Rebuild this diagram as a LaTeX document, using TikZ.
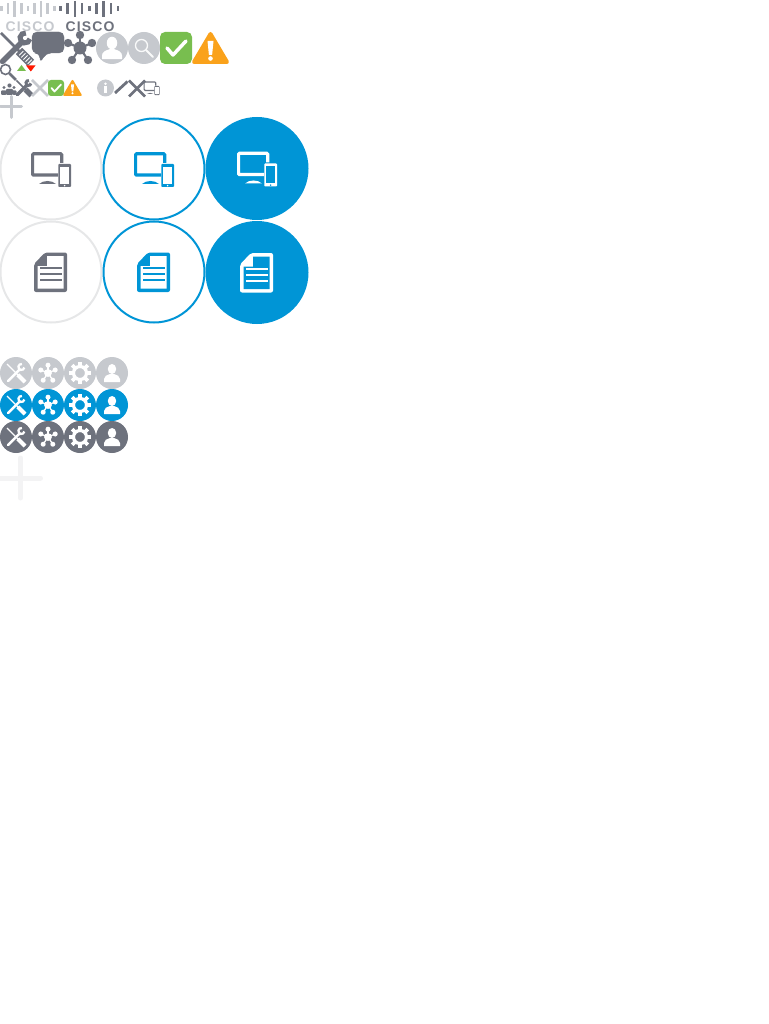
\documentclass[tikz,border=0pt]{standalone}
\usepackage{fontspec}
\newfontfamily\logofont[LetterSpace=8]{Liberation Sans}
\definecolor{slategrey}{HTML}{6E727D}
\definecolor{palegrey}{HTML}{C6C9CE}
\definecolor{ringgrey}{HTML}{E6E7E8}
\definecolor{ciscoblue}{HTML}{0095D6}
\definecolor{okgreen}{HTML}{78BE4F}
\definecolor{warnorange}{HTML}{FAA21B}
\tikzset{
    disc/.style={circle, inner sep=0pt, minimum size=#1},
    logotext/.style={font=\logofont\bfseries\fontsize{14}{14}\selectfont, inner sep=0pt},
    pics/ciscobars/.style n args={2}{code={
        \foreach \i/\h in {0/2.5, 1/5.5, 2/8, 3/5.5, 4/2.5, 5/5.5, 6/8, 7/5.5, 8/2.5}
            \draw[#1, line width=2.6pt] (\i*#2,9-\h) -- (\i*#2,9+\h);
    }},
    pics/tools/.style n args={2}{code={
        \draw[#1, line width=#2*5.5pt, line cap=round] (-13.5,13.5) -- (6,-6);
        \draw[#1, line width=#2*5pt] (9,-10) ++(10:5) arc[start angle=10, end angle=280, radius=5];
        \draw[#1, line width=#2*2.5pt] (-15,-15) -- (4,4);
        \draw[#1, line width=#2*9pt] (3,3) -- (15,15);
    }},
    pics/crossbars/.style n args={2}{code={
        \draw[#1, line width=#2] (-8,-8) -- (8,8) (-8,8) -- (8,-8);
    }},
    pics/hub/.style n args={2}{code={
        \foreach \a/\b in {0/-13, -12/-5, 12/-5, -8/12, 8/12} {
            \draw[#1, line width=#2] (0,0) -- (\a,\b);
            \fill[#1] (\a,\b) circle[radius=4.2];
        }
        \fill[#1] (0,0) circle[radius=6.5];
    }},
    pics/gear/.style={code={
        \draw[#1, line width=3.2pt] (0,0) circle[radius=6.5];
        \foreach \a in {0,45,...,315}
            \draw[#1, line width=3.8pt] (\a:6.5) -- (\a:11);
    }},
    pics/person/.style={code={
        \fill[#1] (0,-4) ellipse[x radius=4.2, y radius=5];
        \fill[#1] (-8,9) -- (-8,6) .. controls (-8,3) and (-5,2) .. (-2,1) -- (2,1) .. controls (5,2) and (8,3) .. (8,6) -- (8,9) -- cycle;
    }},
    pics/tick/.style n args={2}{code={
        \draw[#1, line width=#2, line cap=round, line join=round] (-9,0) -- (-3,7) -- (10,-7);
    }},
    pics/warning/.style={code={
        \draw[warnorange, fill=warnorange, line width=#1, line join=round] (0,-14) -- (16.5,14) -- (-16.5,14) -- cycle;
        \fill[white] (-3,-7) -- (3,-7) -- (1.6,7) -- (-1.6,7) -- cycle;
        \fill[white] (0,10.5) circle[radius=2.3];
    }},
    pics/devices/.style n args={3}{code={
        \draw[#1, line width=#3, rounded corners=1pt] (10.7,-6) -- (10.7,-15.2) -- (-18.4,-15.2) -- (-18.4,6.1) -- (7,6.1);
        \fill[#1] (-12,15) .. controls (-8,11) and (1,11) .. (5,15) -- cycle;
        \fill[#1, rounded corners=.8pt] (7.3,-5) rectangle (20,18);
        \fill[#2] (9,-2) rectangle (18.3,15);
        \fill[#2] (13.6,16.6) circle[radius=.8];
    }},
    pics/document/.style n args={2}{code={
        \fill[#1, rounded corners=2pt] (-17,-8) -- (-6,-19.5) -- (16,-19.5) -- (16,20) -- (-17,20) -- cycle;
        \fill[#2] (-4,-16) -- (12.5,-16) -- (12.5,16.5) -- (-13.5,16.5) -- (-13.5,-6) -- (-4,-6) -- cycle;
        \foreach \y in {-4,2,8}
            \draw[#1, line width=2pt] (-11,\y) -- (10.5,\y);
    }},
    pics/plusbars/.style n args={3}{code={
        \draw[#1, line width=#3, line cap=round] (-#2,0) -- (#2,0) (0,-#2) -- (0,#2);
    }},
}
\begin{document}
\begin{tikzpicture}[x=1pt,y=-1pt]
    \useasboundingbox (0,0) rectangle (768,1024);

    \pic at (1.5,0) {ciscobars={palegrey}{6.6}};
    \pic at (60.5,0) {ciscobars={slategrey}{7.2}};
    \node[logotext, text=palegrey] (logolight) at (30,27) {CISCO};
    \node[logotext, text=slategrey] (logodark) at (90,27) {CISCO};

    \pic at (16,48) {tools={slategrey}{1}};
    \draw[white, line width=6pt, dash pattern=on .8pt off 2.2pt] (21,53) -- (31,63);
    \draw[slategrey, fill=slategrey, rounded corners=5pt] (32,32) -- (64,32) -- (64,53) -- (46,53) -- (40,63) -- (40,53) -- (32,53) -- cycle;
    \pic at (80,48) {hub={slategrey}{2.2pt}};

    \node[disc=32pt, fill=palegrey] (userdisc) at (112,48) {};
    \pic[scale=1.25] at (userdisc) {person=white};
    \node[disc=32pt, fill=palegrey] (searchdisc) at (144,48) {};
    \draw[white!90!palegrey, line width=1.3pt] (141.5,45.5) circle[radius=6];
    \draw[white!90!palegrey, line width=2pt, line cap=round] (146,50) -- (153,57);
    \node[rectangle, rounded corners=5pt, minimum size=32pt, inner sep=0pt, fill=okgreen] (tickbox) at (176,48) {};
    \pic at (tickbox) {tick={white}{3.5pt}};
    \pic at (210.5,48) {warning=4pt};

    \draw[slategrey, line width=1.6pt] (5.5,69.5) circle[radius=5];
    \draw[slategrey, line width=2.5pt] (9.5,73.5) -- (16,80);
    \fill[okgreen] (21.5,65) -- (26,71) -- (17,71) -- cycle;
    \fill[red!80!orange] (26,65.5) -- (35.5,65.5) -- (30.8,71.5) -- cycle;

    \foreach \x/\y/\r in {4/87.5/1.7, 9.5/85.5/2.1, 14/87.5/1.7}
        \fill[slategrey] (\x,\y) circle[radius=\r];
    \fill[slategrey, rounded corners=1pt] (1,95) rectangle (6.5,90.5) (6,95) rectangle (13,89) (12.5,95) rectangle (16.5,90.5);
    \pic[scale=.5] at (24,88) {tools={slategrey}{.6}};
    \pic at (40,88) {crossbars={palegrey}{2.8pt}};
    \node[rectangle, rounded corners=3pt, minimum size=16pt, inner sep=0pt, fill=okgreen] (ticksmall) at (56,88) {};
    \pic[scale=.5] at (ticksmall) {tick={white}{1.8pt}};
    \pic[scale=.5] at (72.5,88) {warning=2pt};

    \node[disc=17pt, fill=palegrey] (infodisc) at (105.5,88) {};
    \fill[white] (105.5,83.8) circle[radius=1.4];
    \draw[white, line width=2.4pt] (105.5,86.5) -- (105.5,93);
    \draw[slategrey, line width=2.8pt] (115,93) -- (127.5,81.5);
    \pic at (137,88.5) {crossbars={slategrey}{2.8pt}};
    \pic[scale=.4] at (151.5,88) {devices={slategrey}{white}{1.2pt}};
    \pic at (11,107) {plusbars={palegrey}{10.5}{3pt}};

    \node[disc=101pt, draw=ringgrey, line width=2pt] (devicering) at (51,169) {};
    \node[disc=101pt, draw=ciscoblue, line width=2pt] (deviceblue) at (154,169) {};
    \node[disc=103pt, fill=ciscoblue] (devicefill) at (257,168.5) {};
    \node[disc=101pt, draw=ringgrey, line width=2pt] (docring) at (51,272) {};
    \node[disc=101pt, draw=ciscoblue, line width=2pt] (docblue) at (154,272) {};
    \node[disc=103pt, fill=ciscoblue] (docfill) at (257,272.5) {};
    \pic at (devicering) {devices={slategrey}{white}{3.2pt}};
    \pic at (deviceblue) {devices={ciscoblue}{white}{3.2pt}};
    \pic at (devicefill) {devices={white}{ciscoblue}{3.2pt}};
    \pic at (docring) {document={slategrey}{white}};
    \pic at (docblue) {document={ciscoblue}{white}};
    \pic at (docfill) {document={white}{ciscoblue}};

    \foreach \rowname/\y/\col in {pale/373/palegrey, blue/405/ciscoblue, slate/437/slategrey} {
        \node[disc=32pt, fill=\col] (tools\rowname) at (16,\y) {};
        \node[disc=32pt, fill=\col] (hub\rowname) at (48,\y) {};
        \node[disc=32pt, fill=\col] (gear\rowname) at (80,\y) {};
        \node[disc=32pt, fill=\col] (person\rowname) at (112,\y) {};
        \pic[scale=.6] at (tools\rowname) {tools={white}{.45}};
        \pic[scale=.6] at (hub\rowname) {hub={white}{1.3pt}};
        \pic at (gear\rowname) {gear=white};
        \pic at (person\rowname) {person=white};
    }
    \pic at (20.5,478) {plusbars={ringgrey!50}{20}{5pt}};
\end{tikzpicture}
\end{document}
